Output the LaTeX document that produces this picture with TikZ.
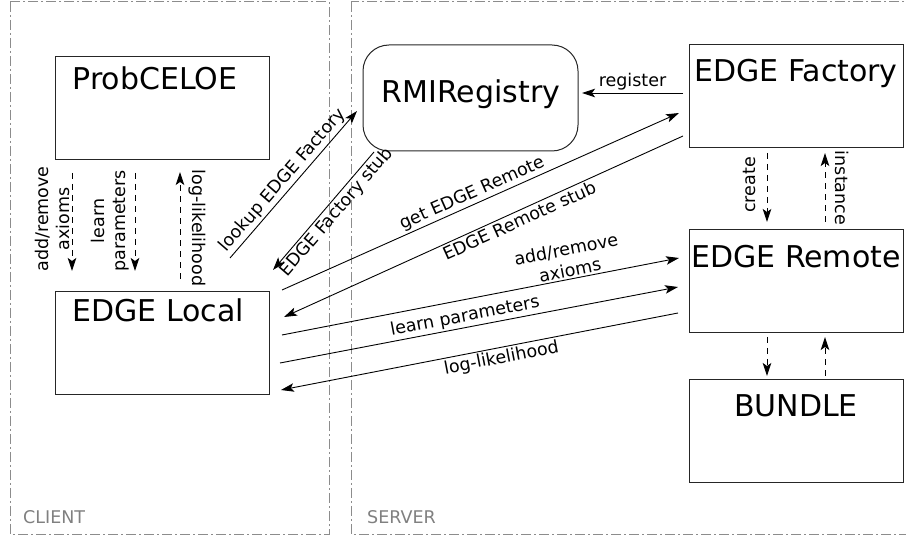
\documentclass[tikz,border=0pt]{standalone}
\usepackage{fontspec}
\setmainfont{DejaVu Sans}
\usetikzlibrary{arrows.meta}
\begin{document}
\begin{tikzpicture}[x=1pt,y=-1pt,
  frame/.style={draw=black!45, line width=1pt, dash pattern=on 10pt off 3pt on 2pt off 3pt},
  framelbl/.style={text=black!50, font=\fontsize{17.5}{20}\selectfont, anchor=base west, inner sep=0pt},
  box/.style={draw=black!85, line width=1pt, minimum width=214pt, minimum height=103pt, inner sep=0pt},
  title/.style={font=\fontsize{30}{35}\selectfont, anchor=base, inner sep=0pt},
  lbl/.style={font=\fontsize{17.5}{21}\selectfont, inner sep=2pt, align=center},
  arr/.style={-{Stealth[length=13pt,width=8.5pt,inset=3pt]}, line width=0.9pt},
  dasharr/.style={arr, dash pattern=on 6pt off 5pt}]
\useasboundingbox (0,0) rectangle (906,537);
% frames
\draw[frame] (10,2) rectangle (329,534);
\draw[frame] (351,2) rectangle (912,534);
\node[framelbl] (client) at (23,523) {CLIENT};
\node[framelbl] (server) at (367,523) {SERVER};
% boxes
\node[box] (pc) at (162,108.5) {};
\node[title] (pctitle) at (155,90) {ProbCELOE};
\node[box] (el) at (162,343.5) {};
\node[title] (eltitle) at (158,322) {EDGE Local};
\node[box, rounded corners=26pt, minimum width=215pt, minimum height=106pt] (rmi) at (470.5,98) {};
\node[title] (rmititle) at (471,103) {RMIRegistry};
\node[box] (ef) at (796,96) {};
\node[title] (eftitle) at (796,82) {EDGE Factory};
\node[box] (er) at (796,281) {};
\node[title] (ertitle) at (796,268) {EDGE Remote};
\node[box] (bu) at (796,431) {};
\node[title] (butitle) at (796,417) {BUNDLE};
% endpoints
\coordinate (a1s) at (72,173);  \coordinate (a1e) at (72,271);
\coordinate (a2s) at (135,173); \coordinate (a2e) at (135,271);
\coordinate (a3s) at (180,279); \coordinate (a3e) at (180,172);
\coordinate (lkS) at (230,258); \coordinate (lkE) at (357,111);
\coordinate (stS) at (374,152); \coordinate (stE) at (273,270);
\coordinate (reS) at (683,93);  \coordinate (reE) at (582,93);
\coordinate (geS) at (282,290); \coordinate (geE) at (679,113);
\coordinate (rsS) at (683,136); \coordinate (rsE) at (284,317);
\coordinate (adS) at (282,335); \coordinate (adE) at (679,258);
\coordinate (lpS) at (280,363); \coordinate (lpE) at (678,287);
\coordinate (llS) at (678,313); \coordinate (llE) at (281,390);
\coordinate (c1s) at (767,153); \coordinate (c1e) at (767,222);
\coordinate (i1s) at (825,222); \coordinate (i1e) at (825,153);
\coordinate (c2s) at (767,337); \coordinate (c2e) at (767,376);
\coordinate (i2s) at (825,376); \coordinate (i2e) at (825,337);
% client vertical arrows
\draw[dasharr] (a1s) -- (a1e);
\draw[dasharr] (a2s) -- (a2e);
\draw[dasharr] (a3s) -- (a3e);
\node[lbl, rotate=90] (l1) at (52.5,219) {add/remove\\axioms};
\node[lbl, rotate=90] (l2) at (110.5,221) {learn\\parameters};
\node[lbl, rotate=-90] (l3) at (197,228) {log-likelihood};
% diagonals
\draw[arr] (lkS) -- node[lbl, sloped, above, pos=0.48] {lookup EDGE Factory} (lkE);
\draw[arr] (stS) -- node[lbl, sloped, below, pos=0.45] {EDGE Factory stub} (stE);
\draw[arr] (reS) -- node[lbl, above] {register} (reE);
\draw[arr] (geS) -- node[lbl, sloped, above, pos=0.49] {get EDGE Remote} (geE);
\draw[arr] (rsS) -- node[lbl, sloped, below, pos=0.42] {EDGE Remote stub} (rsE);
\draw[arr] (adS) -- node[lbl, sloped, above, pos=0.73] {add/remove\\axioms} (adE);
\draw[arr] (lpS) -- node[lbl, sloped, above, pos=0.47] {learn parameters} (lpE);
\draw[arr] (llS) -- node[lbl, sloped, below, pos=0.45] {log-likelihood} (llE);
% server vertical arrows
\draw[dasharr] (c1s) -- (c1e);
\draw[dasharr] (i1s) -- (i1e);
\draw[dasharr] (c2s) -- (c2e);
\draw[dasharr] (i2s) -- (i2e);
\node[lbl, rotate=90] (lc) at (749,185) {create};
\node[lbl, rotate=-90] (li) at (842,188) {instance};
\end{tikzpicture}
\end{document}
